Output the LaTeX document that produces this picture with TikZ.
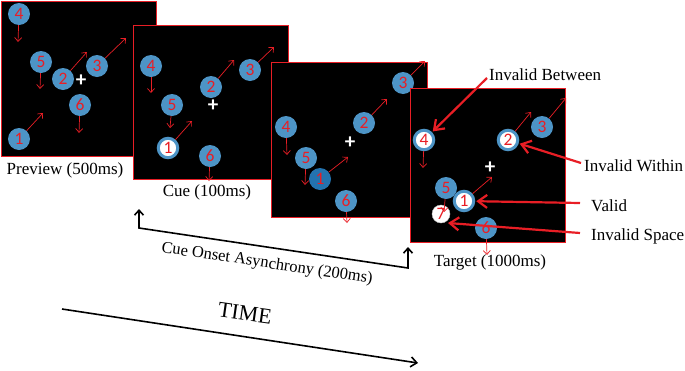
\documentclass[tikz,border=0pt]{standalone}
\usepackage{fontspec}
\setmainfont{Liberation Serif}
\newfontfamily\numfont{Carlito}
\usetikzlibrary{arrows.meta}
\definecolor{pred}{RGB}{232,30,37}
\definecolor{cblue}{RGB}{77,148,198}
\definecolor{cdark}{RGB}{35,115,175}
\begin{document}
\begin{tikzpicture}[x=1pt,y=-1pt,
  panel/.style={draw=pred, fill=black, line width=0.9pt},
  dot/.style={circle, fill=cblue, minimum size=22pt, inner sep=0pt, text=pred, font=\numfont\fontsize{17.5}{17.5}\selectfont},
  ddot/.style={dot, fill=cdark},
  hdot/.style={dot, fill=white, draw=cblue, line width=3pt, minimum size=19.5pt},
  sdot/.style={dot, fill=white, draw=black!25, line width=0.4pt, minimum size=18pt},
  fix/.style={text=white, font=\numfont\bfseries\fontsize{21}{21}\selectfont, inner sep=0pt},
  mv/.style={draw=pred, line width=0.7pt, -{Straight Barb[length=4pt,width=7pt]}},
  call/.style={draw=pred, line width=2.2pt, -{Straight Barb[length=9pt,width=13pt]}},
  lbl/.style={font=\fontsize{17}{17}\selectfont, inner sep=1pt},
  tl/.style={draw=black, line width=1.6pt}
]
\useasboundingbox (0,0) rectangle (685,370);

% ---------- Panel 1: Preview
\node[panel, minimum width=155pt, minimum height=155pt, anchor=north west, inner sep=0pt] (pa) at (1,1) {};
\node[dot] (a4) at (19,14) {4};
\node[dot] (a5) at (41,62) {5};
\node[dot] (a2) at (63,79) {2};
\node[dot] (a3) at (97,66) {3};
\node[dot] (a6) at (80,105) {6};
\node[dot] (a1) at (19,139) {1};
\node[fix] (af) at (81,81) {+};
\coordinate (a4t) at (18,42);
\coordinate (a5t) at (40,89);
\coordinate (a2t) at (87,52);
\coordinate (a3t) at (126,38);
\coordinate (a6t) at (79,133);
\coordinate (a1t) at (43,113);
\foreach \n in {4,5,2,3,6,1} \draw[mv] (a\n) -- (a\n t);
\node[lbl] (la) at (65,170) {Preview (500ms)};

% ---------- Panel 2: Cue
\node[panel, minimum width=155pt, minimum height=154pt, anchor=north west, inner sep=0pt] (pb) at (133,25) {};
\node[dot] (b4) at (151,66) {4};
\node[dot] (b5) at (172,105) {5};
\node[hdot] (b1) at (168,148) {1};
\node[dot] (b2) at (211,87) {2};
\node[dot] (b3) at (250,70) {3};
\node[dot] (b6) at (210,156) {6};
\node[fix] (bf) at (213,106) {+};
\coordinate (b4t) at (151,93);
\coordinate (b5t) at (170,128);
\coordinate (b1t) at (192,121);
\coordinate (b2t) at (234,60);
\coordinate (b3t) at (274,47);
\coordinate (b6t) at (209,181);
\foreach \n in {4,5,1,2,3,6} \draw[mv] (b\n) -- (b\n t);
\node[lbl] (lb) at (207,192) {Cue (100ms)};

% ---------- Panel 3
\node[panel, minimum width=156pt, minimum height=155pt, anchor=north west, inner sep=0pt] (pc) at (271,62) {};
\node[dot] (c3) at (403,83) {3};
\node[dot] (c2) at (364,123) {2};
\node[dot] (c4) at (286,127) {4};
\node[dot] (c5) at (306,158) {5};
\node[ddot] (c1) at (320,179) {1};
\node[dot] (c6) at (346,201) {6};
\node[fix] (cf) at (350,143) {+};
\coordinate (c3t) at (425,61);
\coordinate (c2t) at (387,99);
\coordinate (c4t) at (287,155);
\coordinate (c5t) at (305,185);
\coordinate (c1t) at (348,157);
\coordinate (c6t) at (347,223);
\foreach \n in {3,2,4,5,1,6} \draw[mv] (c\n) -- (c\n t);

% ---------- Panel 4: Target
\node[panel, minimum width=155pt, minimum height=154pt, anchor=north west, inner sep=0pt] (pd) at (410,88) {};
\node[dot] (d3) at (542,127) {3};
\node[hdot] (d2) at (508,140) {2};
\node[hdot] (d4) at (424,140) {4};
\node[dot] (d5) at (446,188) {5};
\node[hdot] (d1) at (464,201) {1};
\node[sdot] (d7) at (441,214) {7};
\node[dot] (d6) at (486,228) {6};
\node[fix] (df) at (490,168) {+};
\coordinate (d3t) at (566,98);
\coordinate (d2t) at (531,112);
\coordinate (d4t) at (423,168);
\coordinate (d5t) at (444,212);
\coordinate (d1t) at (492,177);
\coordinate (d6t) at (487,255);
\foreach \n in {3,2,4,5,1,6} \draw[mv] (d\n) -- (d\n t);
\node[lbl] (ld) at (490,262) {Target (1000ms)};

% ---------- Callouts
\node[lbl, anchor=west] (ib) at (488,75) {Invalid Between};
\node[lbl, anchor=west] (iw) at (583,166) {Invalid Within};
\node[lbl, anchor=west] (va) at (590,206) {Valid};
\node[lbl, anchor=west] (is) at (590,236) {Invalid Space};
\coordinate (isend) at (448,223);
\draw[call, shorten >=1pt] ([xshift=-1pt,yshift=-3pt]ib.west) -- (d4);
\draw[call, shorten >=1pt] ([xshift=-2pt,yshift=3pt]iw.west) -- (d2);
\draw[call, shorten >=1pt] ([xshift=-10pt,yshift=3pt]va.west) -- (d1);
\draw[call] ([xshift=-10pt,yshift=3pt]is.west) -- (isend);

% ---------- Cue onset asynchrony bracket
\coordinate (k1) at (139,209);
\coordinate (k2) at (139,228);
\coordinate (k3) at (408,268);
\coordinate (k4) at (408,247);
\draw[tl, {Straight Barb[length=5pt,width=9pt]}-{Straight Barb[length=5pt,width=9pt]}] (k1) -- (k2) -- (k3) -- (k4);
\node[font=\fontsize{16.5}{16.5}\selectfont, rotate=-8.5] (soa) at (267,264) {Cue Onset Asynchrony (200ms)};

% ---------- Time arrow
\coordinate (t1) at (62,309);
\coordinate (t2) at (418,363);
\draw[tl, -{Straight Barb[length=6pt,width=10pt]}] (t1) -- (t2);
\node[font=\fontsize{22}{22}\selectfont, rotate=-8, inner sep=1pt] (time) at (245,313) {TIME};
\end{tikzpicture}
\end{document}
